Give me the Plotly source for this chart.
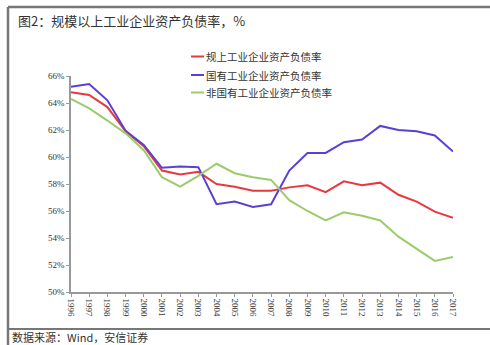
import plotly.graph_objects as go

years = [str(y) for y in range(1996, 2018)]
above_scale = [64.8, 64.6, 63.7, 61.9, 60.8, 59.0, 58.7, 58.9, 58.0, 57.8, 57.5, 57.5,
               57.75, 57.9, 57.4, 58.2, 57.9, 58.1, 57.2, 56.7, 55.95, 55.5]
state_owned = [65.2, 65.4, 64.2, 61.95, 60.9, 59.2, 59.3, 59.25, 56.5, 56.7, 56.3, 56.5,
               59.0, 60.3, 60.3, 61.1, 61.3, 62.3, 62.0, 61.9, 61.6, 60.4]
non_state = [64.3, 63.6, 62.7, 61.75, 60.5, 58.5, 57.8, 58.6, 59.5, 58.8, 58.5, 58.3,
             56.8, 56.0, 55.3, 55.9, 55.65, 55.3, 54.1, 53.2, 52.3, 52.6]
series_names = ["规上工业企业资产负债率", "国有工业企业资产负债率", "非国有工业企业资产负债率"]
series_colors = ["#E8383F", "#5B3FD6", "#9CCB6C"]
y_ticks = [50, 52, 54, 56, 58, 60, 62, 64, 66]
y_labels = [f"{v}%" for v in y_ticks]

W, H = 490, 345
L, R, T, B = 71, 37, 76, 53

fig = go.Figure()
for vals, name, col in zip([above_scale, state_owned, non_state], series_names, series_colors):
    fig.add_trace(go.Scatter(x=years, y=vals, mode="lines", name=name,
                             line=dict(color=col, width=2), showlegend=False))

# manual legend
leg_y = [56.5, 75, 92.5]
for name, col, yy in zip(series_names, series_colors, leg_y):
    fig.add_shape(type="line", xref="paper", yref="paper",
                  x0=(191 - L) / (W - L - R), x1=(204 - L) / (W - L - R),
                  y0=1 - (yy - T) / (H - T - B), y1=1 - (yy - T) / (H - T - B),
                  line=dict(color=col, width=2))
    fig.add_annotation(text=name, xref="paper", yref="paper",
                       x=(204 - L) / (W - L - R), y=1 - (yy - T) / (H - T - B),
                       xanchor="left", yanchor="middle", showarrow=False,
                       font=dict(family="Noto Sans CJK SC", size=10.5, color="#333"))

# frame lines
fig.add_shape(type="line", xref="paper", yref="paper",
              x0=(8 - L) / (W - L - R), x1=(490 - L) / (W - L - R),
              y0=1 + (T - 7) / (H - T - B), y1=1 + (T - 7) / (H - T - B),
              line=dict(color="#777", width=2.5))
fig.add_shape(type="line", xref="paper", yref="paper",
              x0=(8 - L) / (W - L - R), x1=(8 - L) / (W - L - R),
              y0=1 + (T - 7) / (H - T - B), y1=-(345 - 292) / (H - T - B),
              line=dict(color="#777", width=2.5))
fig.add_shape(type="line", xref="paper", yref="paper",
              x0=(8 - L) / (W - L - R), x1=(490 - L) / (W - L - R),
              y0=-(329 - 292) / (H - T - B), y1=-(329 - 292) / (H - T - B),
              line=dict(color="#777", width=2))

fig.add_annotation(text="图2：规模以上工业企业资产负债率，%", xref="paper", yref="paper",
                   x=(16 - L) / (W - L - R), y=1 + (T - 21) / (H - T - B),
                   xanchor="left", yanchor="middle", showarrow=False,
                   font=dict(family="Noto Sans CJK SC", size=13, color="#333"))
fig.add_annotation(text="数据来源：Wind，安信证券", xref="paper", yref="paper",
                   x=(10 - L) / (W - L - R), y=-(337 - 292) / (H - T - B),
                   xanchor="left", yanchor="middle", showarrow=False,
                   font=dict(family="Noto Sans CJK SC", size=11, color="#333"))

fig.update_layout(
    width=W, height=H, margin=dict(l=L, r=R, t=T, b=B),
    paper_bgcolor="white", plot_bgcolor="white",
    xaxis=dict(type="category", range=[0, len(years) - 1], showgrid=False,
               showline=True, linecolor="#999", linewidth=1.5,
               ticks="outside", ticklen=3, tickcolor="#999", tickangle=90,
               tickfont=dict(family="Liberation Serif", size=9, color="#333")),
    yaxis=dict(range=[50, 66], tickvals=y_ticks, ticktext=y_labels, showgrid=False,
               zeroline=False, showline=True, linecolor="#999", linewidth=1.5,
               ticks="outside", ticklen=3, tickcolor="#999",
               tickfont=dict(family="Liberation Serif", size=9, color="#333")),
)

fig.write_html("out.html")
